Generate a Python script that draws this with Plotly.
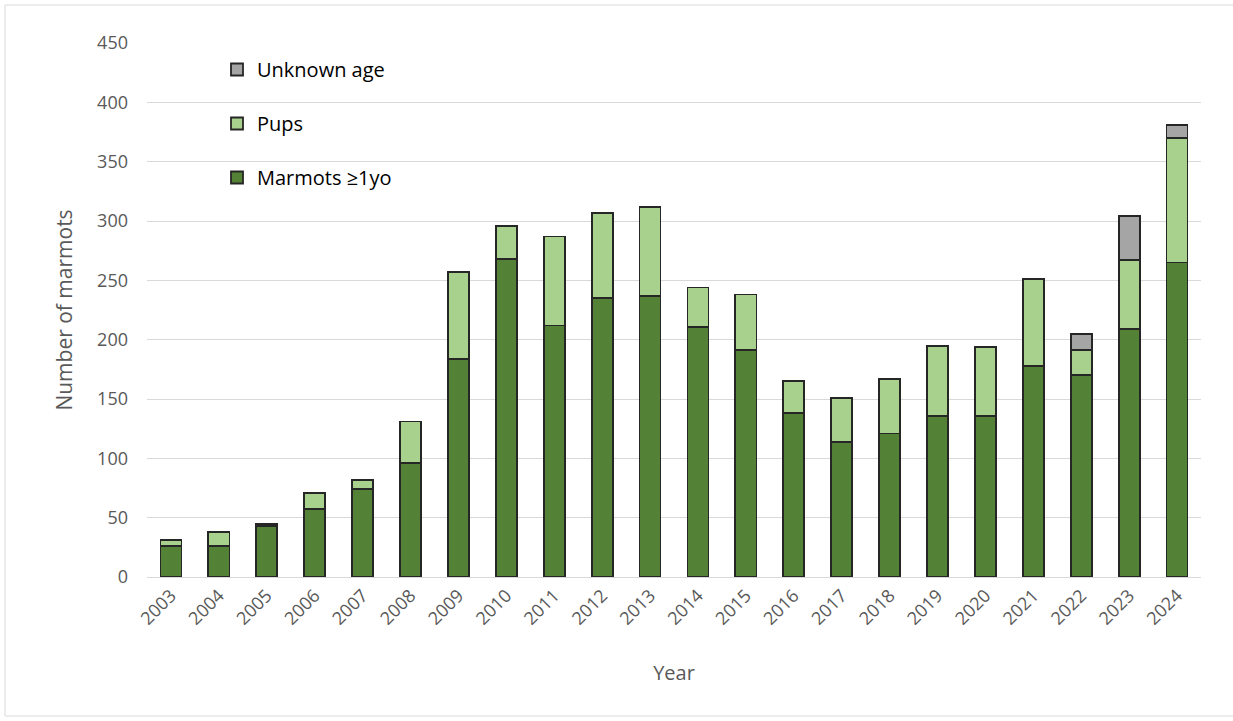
import plotly.graph_objects as go

years = [str(y) for y in range(2003, 2025)]
adults = [26, 26, 43, 57, 74, 96, 184, 268, 212, 235, 237, 211, 191, 138, 114, 121, 136, 136, 178, 170, 209, 265]
pups = [5, 12, 2, 14, 8, 35, 73, 28, 75, 72, 75, 33, 47, 27, 37, 46, 59, 58, 73, 21, 58, 105]
unknown = [0, 0, 0, 0, 0, 0, 0, 0, 0, 0, 0, 0, 0, 0, 0, 0, 0, 0, 0, 14, 37, 11]

# (legend label, values, fill colour, legend rank)
series = [
    ("Marmots ≥1yo", adults, "#538135", 3),
    ("Pups", pups, "#A9D18E", 2),
    ("Unknown age", unknown, "#A5A5A5", 1),
]

FONT = "Open Sans"
TXT = "#595959"

fig = go.Figure()
for name, vals, color, rank in series:
    fig.add_trace(go.Bar(
        x=years, y=vals, name=name, legendgroup=name, legendrank=rank,
        marker=dict(color=color, line=dict(color="#262626", width=1.8)),
    ))

W, H = 1233, 721
L, R, T, B = 147, 32, 43, 144
pw, ph = W - L - R, H - T - B

def px_x(x):
    return (x - L) / pw

def px_y(y):
    return (H - B - y) / ph

fig.update_layout(
    width=W, height=H,
    margin=dict(l=L, r=R, t=T, b=B),
    barmode="stack", bargap=0.56,
    plot_bgcolor="white", paper_bgcolor="white",
    font=dict(family=FONT, color=TXT, size=18),
    showlegend=True,
    legend=dict(
        traceorder="grouped", tracegroupgap=25,
        x=px_x(217), y=px_y(50), xanchor="left", yanchor="top",
        bgcolor="rgba(0,0,0,0)", font=dict(size=20, color="#000000"),
        itemclick=False,
    ),
    xaxis=dict(
        type="category", tickangle=-45, showgrid=False,
        showline=True, linecolor="#d9d9d9", linewidth=1, ticks="",
        tickfont=dict(size=18, color=TXT),
        title=dict(text="Year", font=dict(size=20, color=TXT), standoff=37),
    ),
    yaxis=dict(
        range=[0, 450], dtick=50, showgrid=True, gridcolor="#d9d9d9", gridwidth=1,
        zeroline=False, showline=False, ticks="", ticklabelstandoff=18,
        tickfont=dict(size=18, color=TXT),
        title=dict(text="Number of marmots", font=dict(size=21, color=TXT), standoff=18),
    ),
    shapes=[
        # white panel behind the legend hiding the gridlines
        dict(type="rect", xref="paper", yref="paper", layer="between",
             x0=px_x(156), x1=px_x(478), y0=px_y(205), y1=px_y(38),
             fillcolor="white", line=dict(width=0)),
        # chart area border
        dict(type="rect", xref="paper", yref="paper", layer="below",
             x0=px_x(5), x1=px_x(1240), y0=px_y(716), y1=px_y(5),
             fillcolor="rgba(0,0,0,0)", line=dict(color="#d9d9d9", width=1)),
    ],
)

fig.write_html("out.html")
